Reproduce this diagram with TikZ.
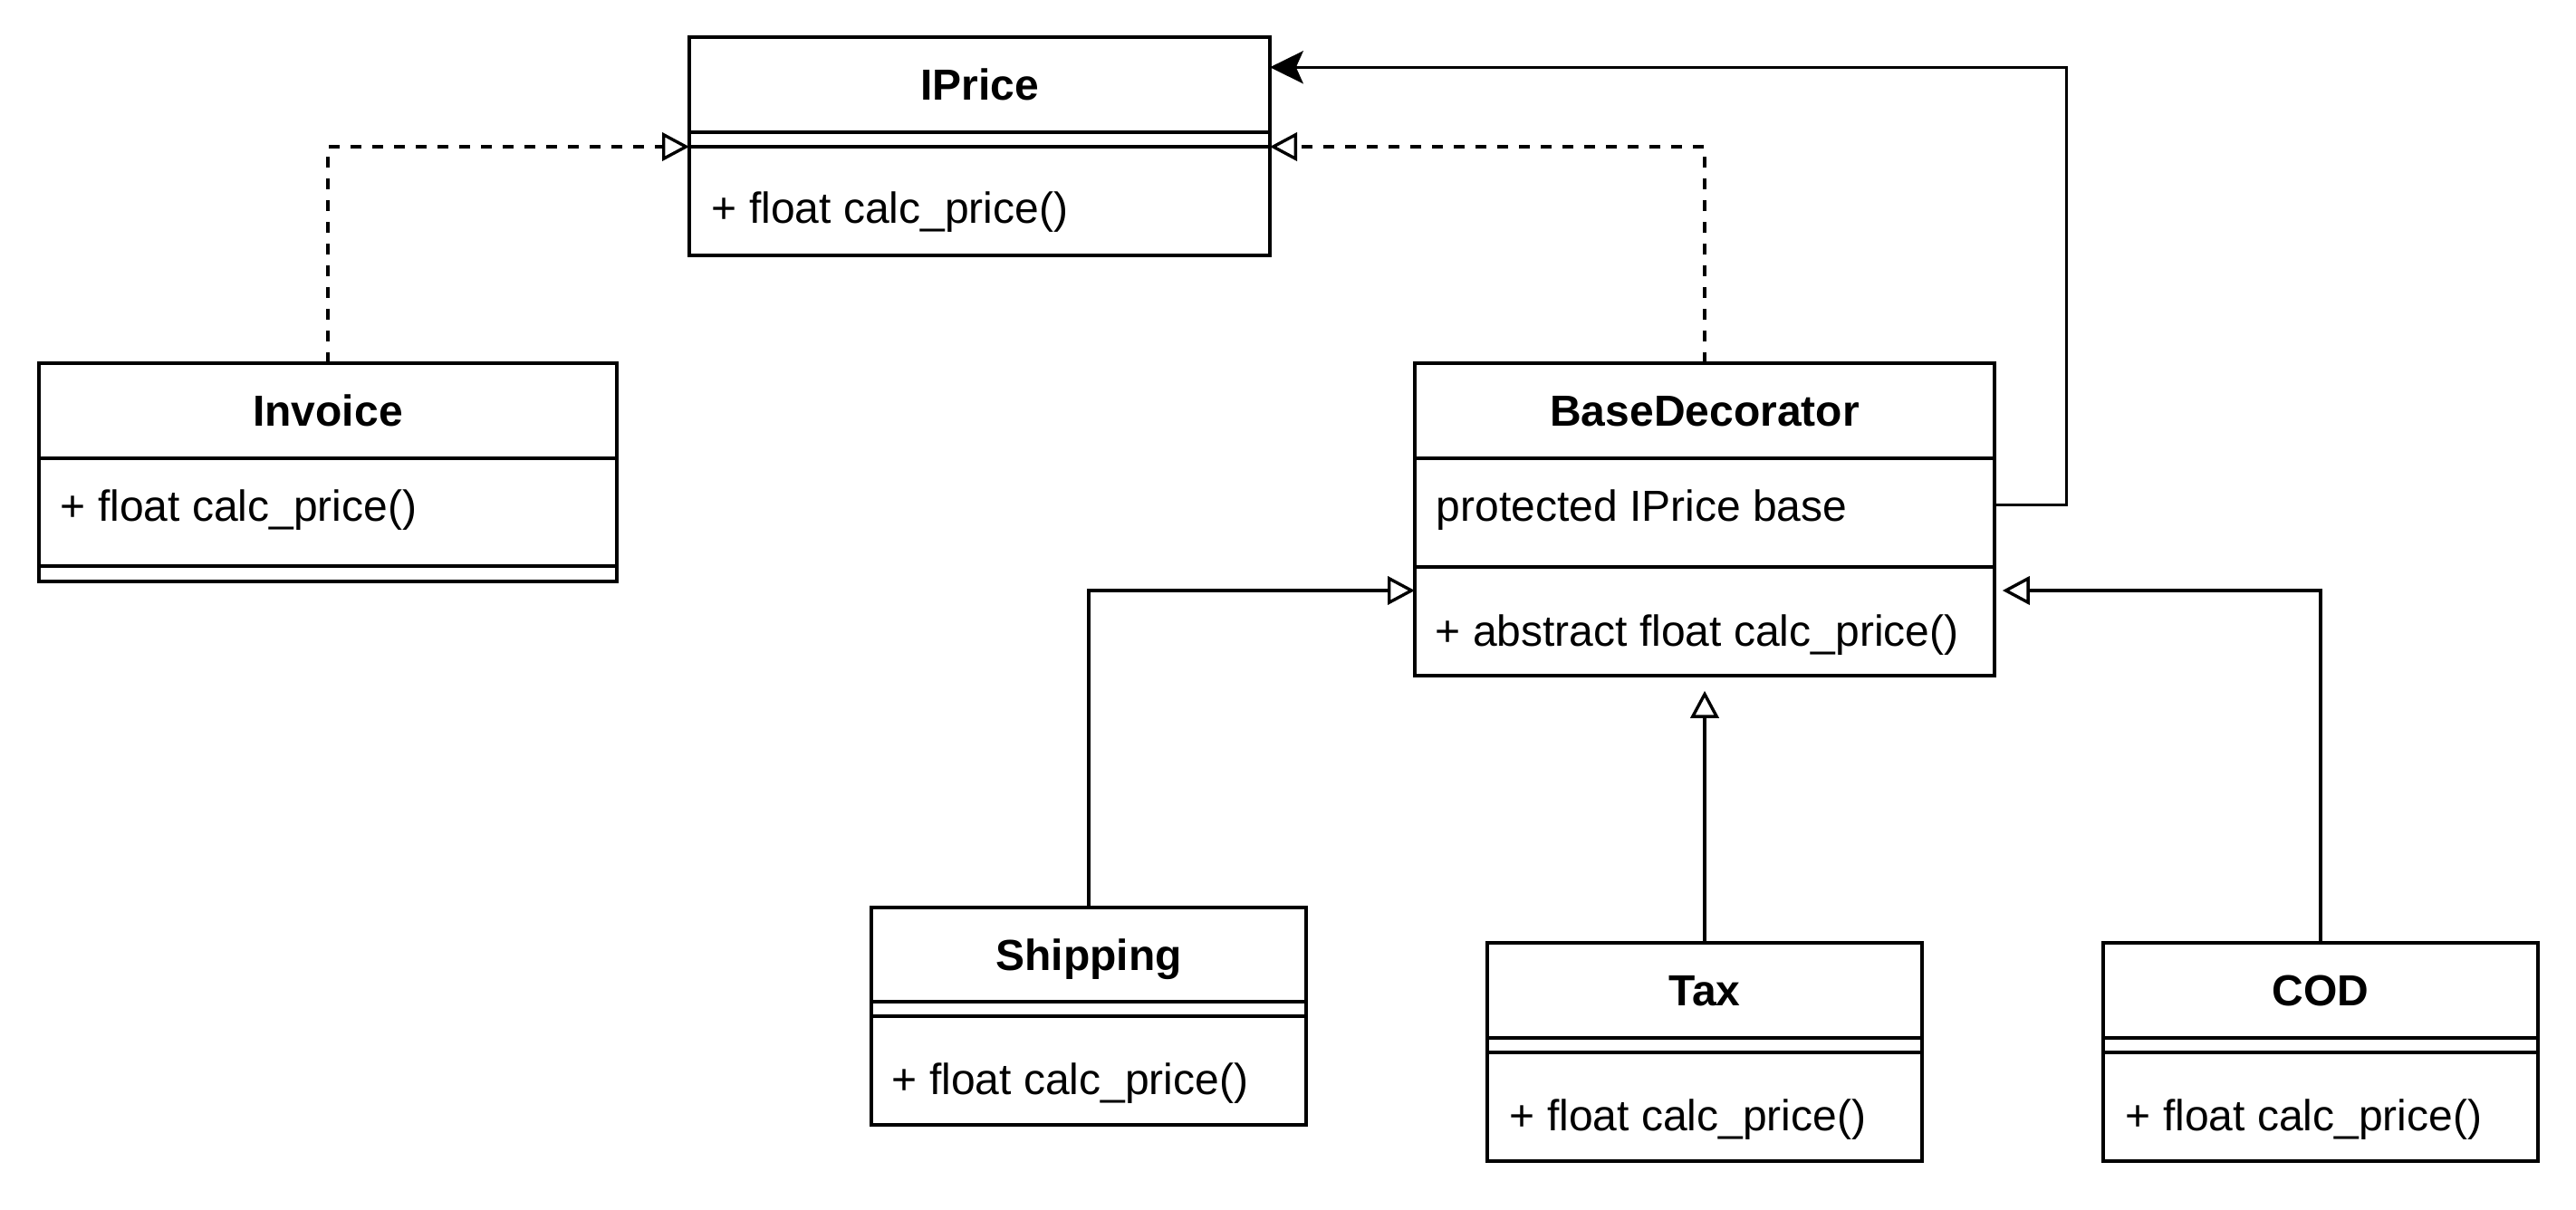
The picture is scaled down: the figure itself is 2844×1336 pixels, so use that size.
\documentclass[tikz,border=0pt]{standalone}
\usepackage{fontspec}
\setmainfont{Liberation Sans}
\usetikzlibrary{arrows.meta,calc}
\tikzset{
  cls/.style={draw, line width=0.85pt, anchor=north west, inner sep=0pt, outer sep=0pt},
  hdr/.style={cls, font=\fontsize{12}{14}\selectfont\bfseries, text height=8.6pt, text depth=0pt},
  txt/.style={anchor=base west, inner sep=0pt, font=\fontsize{12}{14}\selectfont},
  conn/.style={line width=0.85pt, line join=miter},
  dashconn/.style={conn, dash pattern=on 3pt off 3pt},
  real/.style={-{Triangle[open, length=7.5pt, width=7.8pt, line width=0.85pt]}},
  assoc/.style={-{Stealth[length=9.2pt, width=9pt, inset=2pt]}},
}
\begin{document}
\begin{tikzpicture}[x=0.25pt, y=-0.25pt]
\path[fill=white] (0,0) rectangle (2844,1336);
\useasboundingbox (0,0) rectangle (2844,1336);

% IPrice
\node[hdr, minimum width=160.25pt, minimum height=26.25pt] (iph) at (761,41) {IPrice};
\node[cls, minimum width=160.25pt, minimum height=4pt] (ips) at (761,146) {};
\node[cls, minimum width=160.25pt, minimum height=30pt] (ipm) at (761,162) {};
\node[txt] (ipmt) at (785,247) {+ float calc\_price()};

% Invoice
\node[hdr, minimum width=159.5pt, minimum height=26.25pt] (invh) at (43,401) {Invoice};
\node[cls, minimum width=159.5pt, minimum height=29.75pt] (inva) at (43,506) {};
\node[cls, minimum width=159.5pt, minimum height=4.25pt] (invs) at (43,625) {};
\node[txt] (invat) at (66,575) {+ float calc\_price()};

% BaseDecorator
\node[hdr, minimum width=160pt, minimum height=26.25pt] (bdh) at (1562,401) {BaseDecorator};
\node[cls, minimum width=160pt, minimum height=30pt] (bda) at (1562,506) {};
\node[cls, minimum width=160pt, minimum height=30pt] (bdm) at (1562,626) {};
\node[txt] (bdat) at (1585,575) {protected IPrice base};
\node[txt] (bdmt) at (1584,713) {+ abstract float calc\_price()};

% Shipping
\node[hdr, minimum width=120pt, minimum height=26pt] (shh) at (962,1002) {Shipping};
\node[cls, minimum width=120pt, minimum height=4pt] (shs) at (962,1106) {};
\node[cls, minimum width=120pt, minimum height=30pt] (shm) at (962,1122) {};
\node[txt] (shmt) at (984,1208) {+ float calc\_price()};

% Tax
\node[hdr, minimum width=120pt, minimum height=26.25pt] (taxh) at (1642,1041) {Tax};
\node[cls, minimum width=120pt, minimum height=4pt] (taxs) at (1642,1146) {};
\node[cls, minimum width=120pt, minimum height=30pt] (taxm) at (1642,1162) {};
\node[txt] (taxmt) at (1666,1248) {+ float calc\_price()};

% COD
\node[hdr, minimum width=120pt, minimum height=26.25pt] (codh) at (2322,1041) {COD};
\node[cls, minimum width=120pt, minimum height=4pt] (cods) at (2322,1146) {};
\node[cls, minimum width=120pt, minimum height=30pt] (codm) at (2322,1162) {};
\node[txt] (codmt) at (2346,1248) {+ float calc\_price()};

% helper coordinates
\coordinate (bendA) at (2281.7,557.7);
\coordinate (bendB) at (2281.7,74.3);
\coordinate (yin) at (0,652);

% connectors
\draw[dashconn, real] (invh.north) |- (ips.south west);
\draw[dashconn, real] (bdh.north) |- (ips.south east);
\draw[conn, assoc] (bda.east |- bendA) -- (bendA) -- (bendB) -- (iph.east |- bendB);
\draw[conn, real] (shh.north) |- (bdm.west |- yin);
\draw[conn, real, shorten >=4.2pt] (taxh.north) -- (taxh.north |- bdm.south);
\draw[conn, real, shorten >=2.2pt] (codh.north) |- (bdm.east |- yin);
\end{tikzpicture}
\end{document}
